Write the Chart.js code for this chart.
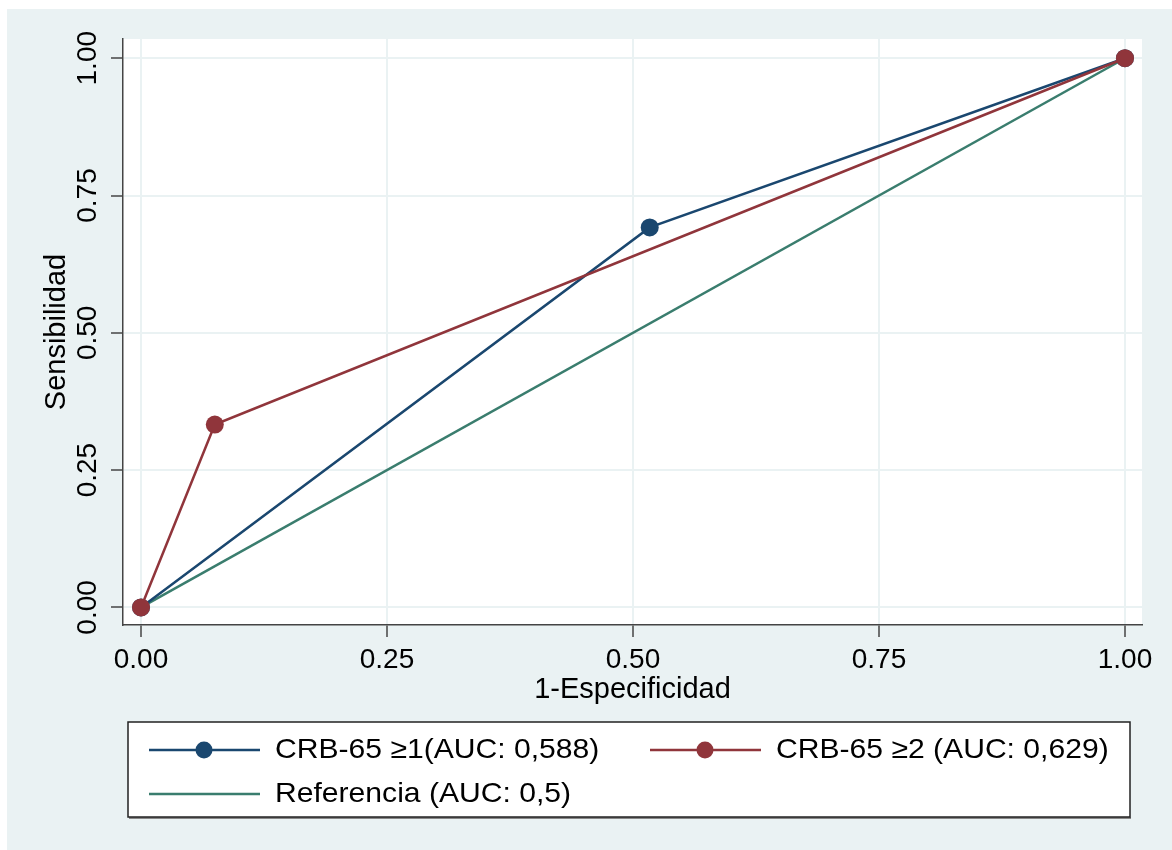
<!DOCTYPE html>
<html>
<head>
<meta charset="utf-8">
<script src="https://cdn.jsdelivr.net/npm/chart.js@4"></script>
<style>
  html, body { margin: 0; padding: 0; background: #fff; }
  #wrap { position: absolute; left: 0; top: 0; width: 1172px; height: 850px; }
</style>
</head>
<body>
<div id="wrap"><canvas id="roc"></canvas></div>
<script>
// data
const seriesLabels = ['CRB-65 \u22651(AUC: 0,588)', 'CRB-65 \u22652 (AUC: 0,629)', 'Referencia (AUC: 0,5)'];
const fprCrb1 = [0, 0.517, 1];
const sensCrb1 = [0, 0.692, 1];
const fprCrb2 = [0, 0.075, 1];
const sensCrb2 = [0, 0.333, 1];
const fprRef = [0, 1];
const sensRef = [0, 1];
const tickValues = [0, 0.25, 0.5, 0.75, 1];
const tickLabels = ['0.00', '0.25', '0.50', '0.75', '1.00'];

const FONT = '"Liberation Sans", Arial, sans-serif';
const BG = '#eaf2f3';
const colors = ['#1a476f', '#90353b', '#3a7d6e'];

const pts = (xs, ys) => xs.map((x, i) => ({ x: x, y: ys[i] }));

const bgPlugin = {
  id: 'bg',
  beforeDraw(chart) {
    const ctx = chart.ctx, a = chart.chartArea;
    ctx.save();
    ctx.fillStyle = '#fff';
    ctx.fillRect(0, 0, chart.width, chart.height);
    ctx.fillStyle = BG;
    ctx.fillRect(7, 9, chart.width - 7, chart.height - 9);
    ctx.fillStyle = '#fff';
    ctx.fillRect(a.left, a.top, a.right - a.left, a.bottom - a.top);
    ctx.restore();
  }
};

// y tick labels are rotated like in Stata
const yLabelPlugin = {
  id: 'ylabels',
  afterDraw(chart) {
    const ctx = chart.ctx, y = chart.scales.y;
    ctx.save();
    ctx.font = '28px ' + FONT;
    ctx.fillStyle = '#000';
    ctx.textAlign = 'center';
    ctx.textBaseline = 'middle';
    tickValues.forEach((v, i) => {
      ctx.save();
      ctx.translate(88, y.getPixelForValue(v));
      ctx.rotate(-Math.PI / 2);
      ctx.fillText(tickLabels[i], 0, 0);
      ctx.restore();
    });
    ctx.restore();
  }
};

const legendPlugin = {
  id: 'boxlegend',
  afterDraw(chart) {
    const ctx = chart.ctx;
    const box = { l: 128, t: 722, r: 1130, b: 817 };
    ctx.save();
    ctx.fillStyle = '#888';
    ctx.fillRect(box.l + 1, box.b, box.r - box.l, 2);
    ctx.fillStyle = '#fff';
    ctx.fillRect(box.l, box.t, box.r - box.l, box.b - box.t);
    ctx.strokeStyle = '#222';
    ctx.lineWidth = 1.5;
    ctx.strokeRect(box.l, box.t, box.r - box.l, box.b - box.t);
    const slots = [
      { x: 149, y: 750 },
      { x: 650, y: 750 },
      { x: 149, y: 794 }
    ];
    chart.data.datasets.forEach((ds, i) => {
      const s = slots[i];
      ctx.strokeStyle = ds.borderColor;
      ctx.lineWidth = 2.5;
      ctx.beginPath();
      ctx.moveTo(s.x, s.y);
      ctx.lineTo(s.x + 111, s.y);
      ctx.stroke();
      if (ds.pointRadius > 0) {
        ctx.fillStyle = ds.pointBackgroundColor;
        ctx.beginPath();
        ctx.arc(s.x + 55, s.y, 8.5, 0, Math.PI * 2);
        ctx.fill();
      }
      ctx.save();
      ctx.translate(s.x + 126, s.y);
      ctx.scale(1.075, 1);
      ctx.fillStyle = '#000';
      ctx.font = '28px ' + FONT;
      ctx.textAlign = 'left';
      ctx.textBaseline = 'middle';
      ctx.fillText(ds.label, 0, 0);
      ctx.restore();
    });
    ctx.restore();
  }
};

new Chart(document.getElementById('roc'), {
  type: 'scatter',
  data: {
    datasets: [
      {
        label: seriesLabels[0],
        data: pts(fprCrb1, sensCrb1),
        showLine: true,
        borderColor: colors[0],
        backgroundColor: colors[0],
        pointBackgroundColor: colors[0],
        pointBorderWidth: 0,
        pointRadius: 9,
        borderWidth: 2.5,
        order: 2
      },
      {
        label: seriesLabels[1],
        data: pts(fprCrb2, sensCrb2),
        showLine: true,
        borderColor: colors[1],
        backgroundColor: colors[1],
        pointBackgroundColor: colors[1],
        pointBorderWidth: 0,
        pointRadius: 9,
        borderWidth: 2.5,
        order: 1
      },
      {
        label: seriesLabels[2],
        data: pts(fprRef, sensRef),
        showLine: true,
        borderColor: colors[2],
        backgroundColor: colors[2],
        pointBackgroundColor: colors[2],
        pointRadius: 0,
        borderWidth: 2.5,
        order: 3
      }
    ]
  },
  options: {
    responsive: true,
    maintainAspectRatio: false,
    animation: false,
    events: [],
    layout: { padding: { top: 39, right: 30, left: 0, bottom: 145 } },
    plugins: {
      legend: { display: false },
      tooltip: { enabled: false }
    },
    scales: {
      x: {
        type: 'linear',
        min: -0.0183,
        max: 1.0173,
        afterBuildTicks: s => { s.ticks = tickValues.map(v => ({ value: v })); },
        afterFit: s => { s.height = 80; },
        grid: { color: BG, lineWidth: 2, tickLength: 12, tickColor: '#444', tickWidth: 1.5 },
        border: { display: true, color: '#444', width: 1.5 },
        ticks: {
          color: '#000',
          font: { family: FONT, size: 28 },
          padding: 6,
          maxRotation: 0,
          callback: (v) => tickLabels[tickValues.indexOf(v)]
        },
        title: {
          display: true,
          text: '1-Especificidad',
          color: '#000',
          font: { family: FONT, size: 29, lineHeight: 1 },
          padding: { top: 0, bottom: 1 }
        }
      },
      y: {
        type: 'linear',
        min: -0.032,
        max: 1.035,
        afterBuildTicks: s => { s.ticks = tickValues.map(v => ({ value: v })); },
        afterFit: s => { s.width = 123; },
        grid: { color: BG, lineWidth: 2, tickLength: 12, tickColor: '#444', tickWidth: 1.5 },
        border: { display: true, color: '#444', width: 1.5 },
        ticks: { display: false },
        title: {
          display: true,
          text: 'Sensibilidad',
          color: '#000',
          font: { family: FONT, size: 29, lineHeight: 1 },
          padding: { top: 42, bottom: 0 }
        }
      }
    }
  },
  plugins: [bgPlugin, yLabelPlugin, legendPlugin]
});
</script>
</body>
</html>
